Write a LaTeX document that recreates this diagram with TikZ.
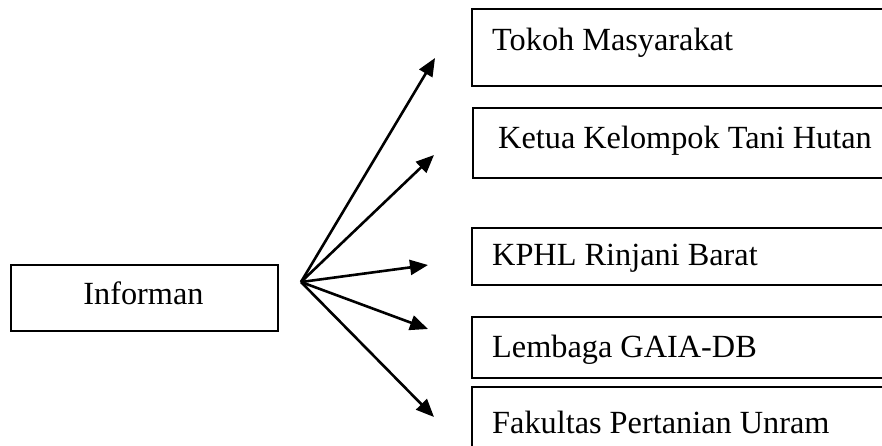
\documentclass[tikz,border=0pt]{standalone}
\usepackage{fontspec}
\setmainfont{Liberation Serif}
\usetikzlibrary{arrows.meta}
\begin{document}
\begin{tikzpicture}[x=1pt,y=-1pt]
		\tikzstyle{every node}+=[inner sep=0pt]
		\tikzstyle{box}=[draw=black, line width=1.8pt, rectangle, anchor=north west]
		\tikzstyle{lbl}=[font=\fontsize{32.3}{38}\selectfont, anchor=base west]
		\tikzstyle{link}=[black, line width=2.6pt, -{Triangle[length=18pt,width=15pt]}]
		\clip (0,0) rectangle (882,445);
		\node [box, minimum width=267pt, minimum height=66pt] (informan) at (10,264) {};
		\node [lbl, anchor=base] (informanlbl) at (143.5,304) {Informan};
		\node [box, minimum width=450pt, minimum height=77pt] (tokoh) at (471,8) {};
		\node [lbl] (tokohlbl) at (492,50) {Tokoh Masyarakat};
		\node [box, minimum width=450pt, minimum height=70pt] (ketua) at (472,107) {};
		\node [lbl] (ketualbl) at (498,148) {Ketua Kelompok Tani Hutan};
		\node [box, minimum width=450pt, minimum height=57pt] (kphl) at (471,227) {};
		\node [lbl] (kphllbl) at (492,265) {KPHL Rinjani Barat};
		\node [box, minimum width=450pt, minimum height=61pt] (lembaga) at (471,316) {};
		\node [lbl] (lembagalbl) at (492,357) {Lembaga GAIA-DB};
		\node [box, minimum width=450pt, minimum height=80pt] (fakultas) at (471,386) {};
		\node [lbl] (fakultaslbl) at (492,433) {Fakultas Pertanian Unram};
		\coordinate (fan) at (301,282);
		\coordinate (tipa) at (435,58);
		\coordinate (tipb) at (434,155);
		\coordinate (tipc) at (428,265);
		\coordinate (tipd) at (428,329);
		\coordinate (tipe) at (434,417);
		\draw [link] (fan) -- (tipa);
		\draw [link] (fan) -- (tipb);
		\draw [link] (fan) -- (tipc);
		\draw [link] (fan) -- (tipd);
		\draw [link] (fan) -- (tipe);
	\end{tikzpicture}
\end{document}
